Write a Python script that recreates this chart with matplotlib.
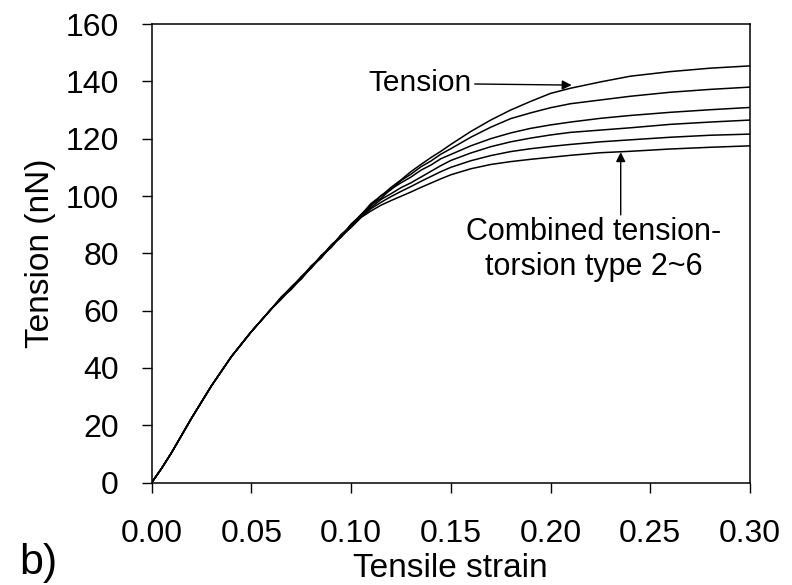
import matplotlib
matplotlib.use('Agg')
import matplotlib.pyplot as plt

plt.rcParams['font.family'] = ['Liberation Sans', 'DejaVu Sans']

# shared initial part of all six curves (strain, tension in nN)
base_strain = [0.0, 0.005, 0.01, 0.02, 0.03, 0.04, 0.05, 0.06]
base_force = [0.0, 5.0, 10.5, 22.5, 33.8, 44.0, 52.7, 60.6]

# wiggly zone where the curves start to separate
mid_strain = [0.065, 0.07, 0.075, 0.08, 0.085, 0.09, 0.095, 0.10, 0.105,
              0.11, 0.115, 0.12, 0.125, 0.13, 0.135, 0.14, 0.145, 0.15]
# plateau zone
end_strain = [0.16, 0.17, 0.18, 0.19, 0.20, 0.21, 0.225, 0.24, 0.26, 0.28, 0.30]

tension_mid = [64.6, 68.3, 71.6, 75.6, 78.8, 82.9, 86.0, 90.2, 93.4,
               97.4, 100.0, 103.0, 105.6, 108.5, 111.0, 113.4, 115.6, 118.0]
type2_mid = [64.2, 67.6, 71.9, 75.0, 79.3, 82.2, 86.6, 89.5, 93.6,
             96.6, 100.2, 102.2, 105.4, 107.6, 110.2, 112.2, 114.6, 116.5]
type3_mid = [64.8, 67.9, 71.2, 75.5, 78.5, 82.8, 85.8, 89.9, 92.8,
             96.9, 99.2, 102.4, 104.6, 106.6, 109.0, 110.8, 113.0, 114.5]
type4_mid = [64.0, 68.0, 71.7, 74.8, 79.0, 82.0, 86.3, 89.3, 93.3,
             96.0, 98.8, 100.8, 102.9, 104.6, 106.6, 108.6, 110.6, 112.4]
type5_mid = [64.5, 67.4, 71.3, 75.3, 78.4, 82.6, 85.6, 89.6, 92.6,
             95.6, 97.8, 99.8, 101.6, 103.3, 105.1, 106.8, 108.5, 110.0]
type6_mid = [64.3, 68.1, 71.0, 75.1, 78.7, 82.3, 85.9, 89.0, 92.5,
             94.8, 96.8, 98.4, 99.9, 101.4, 103.0, 104.5, 106.0, 107.4]

tension_end = [122.5, 126.5, 130.0, 133.0, 135.8, 137.6, 139.8, 141.8, 143.4, 144.6, 145.4]
type2_end = [120.5, 124.0, 127.0, 129.0, 130.8, 132.2, 133.5, 134.8, 136.2, 137.2, 138.0]
type3_end = [117.5, 120.0, 122.0, 123.6, 124.8, 125.8, 127.1, 128.1, 129.2, 130.1, 130.9]
type4_end = [115.0, 117.2, 118.9, 120.2, 121.3, 122.2, 123.0, 123.8, 125.0, 125.8, 126.5]
type5_end = [112.3, 114.1, 115.5, 116.5, 117.3, 118.0, 118.9, 119.6, 120.5, 121.2, 121.6]
type6_end = [109.5, 111.0, 112.0, 112.8, 113.5, 114.2, 115.1, 115.6, 116.4, 117.0, 117.5]

xticks = [0.00, 0.05, 0.10, 0.15, 0.20, 0.25, 0.30]
yticks = [0, 20, 40, 60, 80, 100, 120, 140, 160]

fig = plt.figure(figsize=(7.92, 5.85), dpi=100)
ax = fig.add_axes([0.1915, 0.175, 0.7554, 0.7839])

curves = [(tension_mid, tension_end), (type2_mid, type2_end), (type3_mid, type3_end),
          (type4_mid, type4_end), (type5_mid, type5_end), (type6_mid, type6_end)]
x_all = base_strain + mid_strain + end_strain
for mid, end in curves:
    ax.plot(x_all, base_force + mid + end, color='black', lw=1.1)

ax.set_xlim(0, 0.30)
ax.set_ylim(0, 160)
ax.set_xticks(xticks)
ax.set_xticklabels(['%.2f' % v for v in xticks])
ax.set_yticks(yticks)
ax.tick_params(direction='out', length=7.2, width=1.0, labelsize=23, top=False, right=False)
ax.tick_params(axis='y', pad=16.5)
ax.tick_params(axis='x', pad=19)
for s in ax.spines.values():
    s.set_linewidth(1.1)

ax.set_xlabel('Tensile strain', fontsize=24, labelpad=3)
ax.set_ylabel('Tension (nN)', fontsize=24, labelpad=7)

# annotations
ax.annotate('Tension', xy=(0.2106, 138.7), xytext=(0.1606, 139.3),
            ha='right', va='center', fontsize=21.5,
            arrowprops=dict(arrowstyle='-|>', color='black', lw=1.0,
                            mutation_scale=14, shrinkA=0, shrinkB=0))
ax.annotate('', xy=(0.2352, 115.3), xytext=(0.2352, 93.4),
            arrowprops=dict(arrowstyle='-|>', color='black', lw=1.0,
                            mutation_scale=14, shrinkA=0, shrinkB=0))
ax.text(0.2215, 81.3, 'Combined tension-\ntorsion type 2~6', ha='center', va='center',
        fontsize=22, linespacing=1.22)

fig.text(0.024, 0.037, 'b)', fontsize=31, ha='left', va='center')

fig.savefig('out.png', dpi=100)
